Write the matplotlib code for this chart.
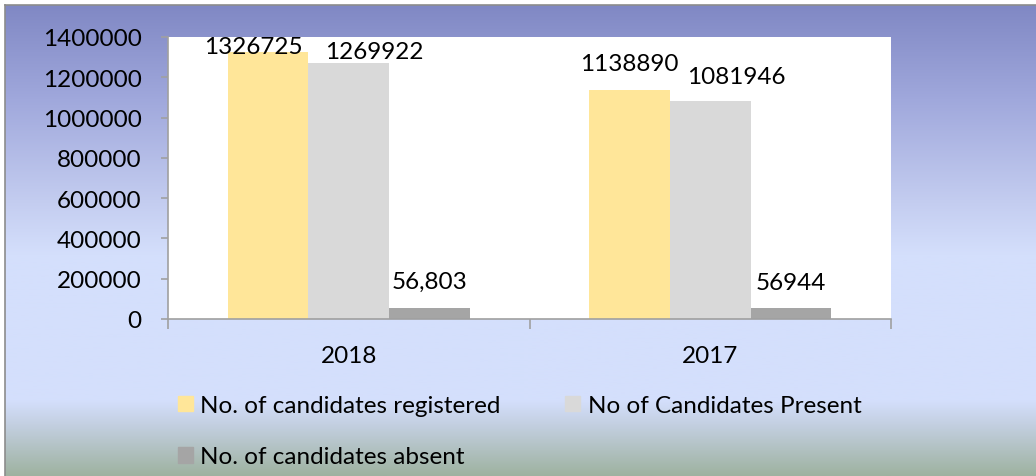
import matplotlib
matplotlib.use("Agg")
import matplotlib.pyplot as plt
import numpy as np
from matplotlib.patches import Patch

# data
years = ["2018", "2017"]
registered = [1326725, 1138890]
present = [1269922, 1081946]
absent = [56803, 56944]
value_labels = [["1326725", "1269922", "56,803"], ["1138890", "1081946", "56944"]]
series_names = ["No. of candidates registered", "No of Candidates Present", "No. of candidates absent"]
colors = ["#ffe699", "#d9d9d9", "#a5a5a5"]
yticks = [0, 200000, 400000, 600000, 800000, 1000000, 1200000, 1400000]

plt.rcParams['font.family'] = ['Lato', 'DejaVu Sans']

W, H = 1036, 477
fig = plt.figure(figsize=(W / 100, H / 100), dpi=100)

# gradient background (frame starts a few px in from top-left)
bg = fig.add_axes([5 / W, 0, 1 - 5 / W, (H - 6) / H])
stops_y = [0.0, 0.2, 0.42, 0.53, 0.84, 0.89, 1.0]
stops_c = np.array([[128, 136, 196], [160, 168, 220], [196, 205, 240], [212, 223, 252],
                    [212, 223, 252], [196, 208, 226], [158, 178, 160]]) / 255
yy = np.linspace(0, 1, 400)
grad = np.stack([np.interp(yy, stops_y, stops_c[:, k]) for k in range(3)], axis=1)
bg.imshow(grad[:, None, :], aspect='auto', extent=[0, 1, 1, 0])
bg.set_xlim(0, 1)
bg.set_ylim(1, 0)
bg.set_xticks([])
bg.set_yticks([])
for s in ["right", "bottom"]:
    bg.spines[s].set_visible(False)
for s in ["top", "left"]:
    bg.spines[s].set_color("#8c8c8c")
    bg.spines[s].set_linewidth(1.2)

ax = fig.add_axes([168 / W, (H - 320) / H, (891 - 168) / W, (320 - 38) / H])
ax.set_facecolor("white")

x = np.arange(len(years))
w = 0.223
series = [registered, present, absent]
for i, vals in enumerate(series):
    ax.bar(x + (i - 1) * w, vals, w, color=colors[i], label=series_names[i], zorder=2)

# data labels (pixel offsets from bar top centre)
offsets = [[(-15, 5), (26, 12), (0, 26)], [(0, 26), (26, 25), (0, 25)]]
for g in range(len(years)):
    for i, vals in enumerate(series):
        dx, dy = offsets[g][i]
        ax.annotate(value_labels[g][i], (x[g] + (i - 1) * w, vals[g]),
                    xytext=(dx * 0.72, dy * 0.72), textcoords='offset points',
                    ha='center', va='center', fontsize=17.5, color='black',
                    annotation_clip=False)

ax.set_ylim(0, 1400000)
ax.set_xlim(-0.5, 1.5)
ax.set_yticks(yticks)
ax.set_yticklabels([str(v) for v in yticks], fontsize=17.5)
ax.set_xticks(x)
ax.set_xticklabels(years, fontsize=17.5)
ax.set_xticks([-0.5, 0.5, 1.5], minor=True)
ax.tick_params(axis='x', which='major', length=0, pad=19)
ax.tick_params(axis='x', which='minor', length=7, color='#a0a0a0', width=1.2)
ax.tick_params(axis='y', length=5, color='#a0a0a0', width=1.2, pad=14)
for s in ["top", "right"]:
    ax.spines[s].set_visible(False)
for s in ["left", "bottom"]:
    ax.spines[s].set_color("#a0a0a0")
    ax.spines[s].set_linewidth(1.2)

# legend: column-major fill, so put "absent" second to land on row 2
order = [0, 2, 1]
handles = [Patch(color=colors[k]) for k in order]
labels = [series_names[k] for k in order]
fig.legend(handles, labels, ncol=2, loc='upper left',
           bbox_to_anchor=(178 / W, (H - 396) / H), frameon=False, fontsize=17.5,
           handlelength=0.62, handleheight=0.62, handletextpad=0.3,
           columnspacing=2.65, labelspacing=1.25, borderpad=0, borderaxespad=0)

fig.savefig("out.png", dpi=100)
